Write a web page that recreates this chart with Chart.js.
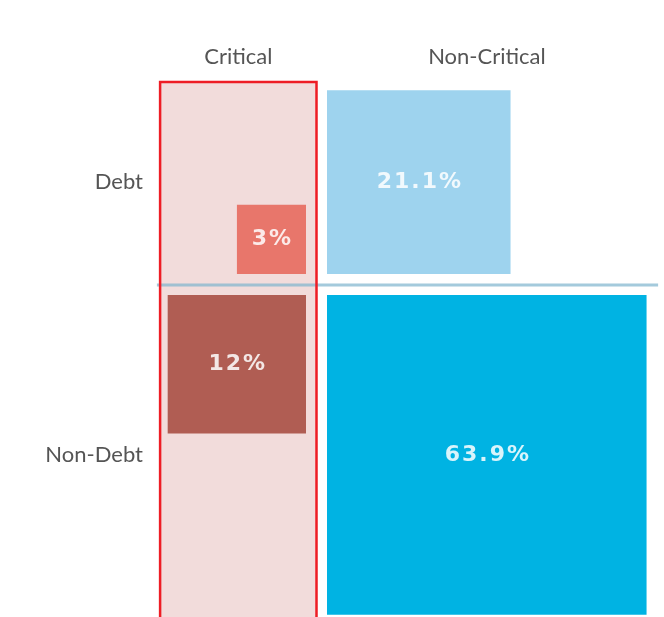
<!DOCTYPE html>
<html>
<head>
<meta charset="utf-8">
<script src="https://cdn.jsdelivr.net/npm/chart.js@4"></script>
<style>
  html, body { margin: 0; padding: 0; background: #fff; }
  #wrap { width: 664px; height: 617px; position: relative; }
</style>
</head>
<body>
<div id="wrap"><canvas id="mosaic"></canvas></div>
<script>
// share of spending, by row (Debt / Non-Debt) and column (Critical / Non-Critical)
const rowLabels = ['Debt', 'Non-Debt'];
const colLabels = ['Critical', 'Non-Critical'];
const criticalShare = [3, 12];
const nonCriticalShare = [21.1, 63.9];
const valueLabels = [['3%', '21.1%'], ['12%', '63.9%']];

// colours per cell [row][col]
const cellColors = [['#e8766b', '#9ed3ee'], ['#b05d53', '#00b3e3']];

// layout, in "sqrt of percent" units (1 unit = 40px on screen)
const GAP = 0.2625;
const COL_LEFT = -3.91;
const COL_TOP = 5.06;
const FAR = -20;

const side = pct => Math.sqrt(pct);
const shares = [[criticalShare[0], nonCriticalShare[0]], [criticalShare[1], nonCriticalShare[1]]];

function cellBox(r, c) {
    const s = side(shares[r][c]);
    const x0 = c === 0 ? -GAP - s : GAP;
    const x1 = c === 0 ? -GAP : GAP + s;
    const y0 = r === 0 ? GAP : -GAP - s;
    const y1 = r === 0 ? GAP + s : -GAP;
    return { x0, x1, y0, y1 };
}

const datasets = [];

// pink background for the Critical column
datasets.push({
    data: [{ x: COL_LEFT, y: COL_TOP }, { x: 0, y: COL_TOP }],
    fill: { value: FAR },
    backgroundColor: '#f2dcdb',
    borderWidth: 0,
    pointRadius: 0,
    order: 10
});

// horizontal divider between rows
datasets.push({
    data: [{ x: -3.99, y: -0.0125 }, { x: 8.54, y: -0.0125 }],
    fill: false,
    borderColor: 'rgba(125,180,205,0.7)',
    borderWidth: 3,
    pointRadius: 0,
    order: 9
});

// the four squares
for (let r = 0; r < 2; r++) {
    for (let c = 0; c < 2; c++) {
        const b = cellBox(r, c);
        datasets.push({
            data: [{ x: b.x0, y: b.y1 }, { x: b.x1, y: b.y1 }],
            fill: { value: b.y0 },
            backgroundColor: cellColors[r][c],
            borderWidth: 0,
            pointRadius: 0,
            order: 8
        });
    }
}

// red outline of the Critical column
datasets.push({
    data: [{ x: COL_LEFT, y: FAR }, { x: COL_LEFT, y: COL_TOP }, { x: 0, y: COL_TOP }, { x: 0, y: FAR }],
    fill: false,
    borderColor: '#ee1d25',
    borderWidth: 2.5,
    pointRadius: 0,
    order: 1
});

const colCenters = [COL_LEFT / 2, GAP + side(nonCriticalShare[1]) / 2];
const rowCenters = [GAP + side(nonCriticalShare[0]) / 2, -GAP - side(nonCriticalShare[1]) / 2];

const cellLabels = {
    id: 'cellLabels',
    afterDatasetsDraw(chart) {
        const { ctx, scales: { x, y } } = chart;
        ctx.save();
        ctx.font = 'bold 22px "DejaVu Sans"';
        ctx.letterSpacing = '2px';
        ctx.fillStyle = 'rgba(255,255,255,0.85)';
        ctx.textAlign = 'center';
        ctx.textBaseline = 'middle';
        for (let r = 0; r < 2; r++) {
            for (let c = 0; c < 2; c++) {
                const b = cellBox(r, c);
                const px = x.getPixelForValue((b.x0 + b.x1) / 2);
                const py = y.getPixelForValue((b.y0 + b.y1) / 2);
                ctx.fillText(valueLabels[r][c], px + 1, py);
            }
        }
        ctx.restore();
    }
};

const noPad = s => { s.paddingTop = 0; s.paddingBottom = 0; s.paddingLeft = 0; s.paddingRight = 0; };

new Chart(document.getElementById('mosaic'), {
    type: 'line',
    data: { datasets },
    plugins: [cellLabels],
    options: {
        responsive: true,
        maintainAspectRatio: false,
        animation: false,
        layout: { padding: 0 },
        plugins: {
            legend: { display: false },
            tooltip: { enabled: false }
        },
        scales: {
            x: {
                type: 'linear',
                position: 'top',
                min: -4.1625,
                max: 8.6875,
                grid: { display: false, drawTicks: false },
                border: { display: false },
                afterBuildTicks: s => { s.ticks = colCenters.map(v => ({ value: v })); },
                afterFit: s => { s.height = 80; noPad(s); },
                ticks: {
                    autoSkip: false,
                    maxRotation: 0,
                    padding: 10,
                    color: '#555',
                    font: { family: 'Lato', size: 22 },
                    callback: (v, i) => colLabels[i]
                }
            },
            y: {
                type: 'linear',
                min: -8.3125,
                max: 5.1125,
                grid: { display: false, drawTicks: false },
                border: { display: false },
                afterBuildTicks: s => { s.ticks = rowCenters.map(v => ({ value: v })); },
                afterFit: s => { s.width = 150; noPad(s); },
                ticks: {
                    autoSkip: false,
                    padding: 7,
                    color: '#555',
                    font: { family: 'Lato', size: 22 },
                    callback: (v, i) => rowLabels[i]
                }
            }
        }
    }
});
</script>
</body>
</html>
